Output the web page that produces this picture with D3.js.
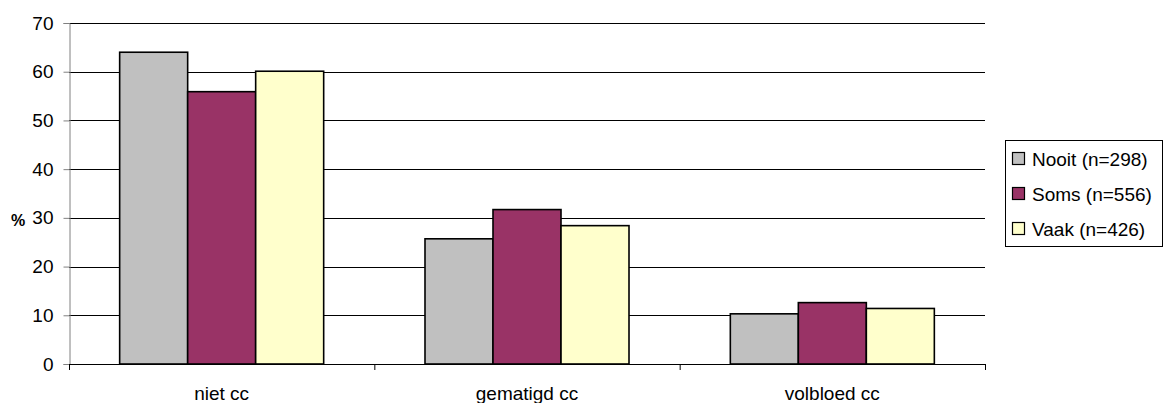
<!DOCTYPE html>
<html>
<head>
<meta charset="utf-8">
<script src="https://cdn.jsdelivr.net/npm/d3@7/dist/d3.min.js"></script>
<style>
  html, body { margin: 0; padding: 0; background: #fff; }
  svg { display: block; font-family: "Liberation Sans", Arial, sans-serif; }
</style>
</head>
<body>
<svg id="chart" width="1164" height="403"></svg>
<script>
// Categories on the x axis
const categories = ["niet cc", "gematigd cc", "volbloed cc"];
// Series (legend labels) and their fills
const seriesNames = ["Nooit (n=298)", "Soms (n=556)", "Vaak (n=426)"];
const seriesColors = ["#C0C0C0", "#993366", "#FFFFCC"];
// Percentages per series, one per category
const nooit = [64.0, 25.7, 10.3];
const soms  = [55.9, 31.7, 12.6];
const vaak  = [60.1, 28.4, 11.4];
const seriesValues = [nooit, soms, vaak];
// Y axis ticks
const yTicks = [0, 10, 20, 30, 40, 50, 60, 70];
const yLabel = "%";

const svg = d3.select("#chart");
const plot = { left: 69, right: 985, top: 23, bottom: 364 };
const fontSize = 19;

const x = d3.scaleBand().domain(categories).range([plot.left, plot.right]).padding(0);
const xs = d3.scaleBand().domain(d3.range(seriesNames.length))
  .range([0, x.bandwidth()]).paddingInner(0).paddingOuter(0.745);
const y = d3.scaleLinear().domain([0, 70]).range([plot.bottom, plot.top]);

// Horizontal gridlines
svg.append("g")
  .selectAll("line")
  .data(yTicks.filter(d => d > 0))
  .join("line")
  .attr("x1", plot.left).attr("x2", plot.right)
  .attr("y1", d => Math.round(y(d)) + 0.5).attr("y2", d => Math.round(y(d)) + 0.5)
  .attr("stroke", "#000").attr("stroke-width", 1);

// Y axis
const yAxis = svg.append("g")
  .attr("transform", `translate(${plot.left + 0.5},0)`)
  .call(d3.axisLeft(y).tickValues(yTicks).tickSize(6).tickPadding(10).tickFormat(d3.format("d")));
yAxis.select(".domain").attr("stroke", "#808080");
yAxis.selectAll(".tick line").attr("stroke", "#808080");
yAxis.selectAll(".tick text").attr("font-size", fontSize).attr("fill", "#000")
  .attr("font-family", "Liberation Sans, Arial, sans-serif");

// Y axis title
svg.append("text")
  .attr("x", 18).attr("y", 226)
  .attr("text-anchor", "middle")
  .attr("font-size", 16).attr("font-weight", "bold")
  .text(yLabel);

// Bars
const groups = svg.append("g").selectAll("g")
  .data(categories)
  .join("g")
  .attr("transform", d => `translate(${x(d)},0)`);

groups.selectAll("rect")
  .data((c, ci) => seriesValues.map((vals, si) => ({ si, v: vals[ci] })))
  .join("rect")
  .attr("x", d => xs(d.si))
  .attr("width", xs.bandwidth())
  .attr("y", d => y(d.v))
  .attr("height", d => y(0) - y(d.v))
  .attr("fill", d => seriesColors[d.si])
  .attr("stroke", "#000")
  .attr("stroke-width", 1.6);

// X axis
const xAxisLine = svg.append("g");
xAxisLine.append("line")
  .attr("x1", plot.left).attr("x2", plot.right)
  .attr("y1", plot.bottom + 0.5).attr("y2", plot.bottom + 0.5)
  .attr("stroke", "#000").attr("stroke-width", 1.2);
xAxisLine.selectAll("line.tk")
  .data(d3.range(categories.length + 1))
  .join("line")
  .attr("class", "tk")
  .attr("x1", i => plot.left + i * x.step() + 0.5)
  .attr("x2", i => plot.left + i * x.step() + 0.5)
  .attr("y1", plot.bottom).attr("y2", plot.bottom + 6)
  .attr("stroke", "#000");
xAxisLine.selectAll("text")
  .data(categories)
  .join("text")
  .attr("x", d => x(d) + x.bandwidth() / 2)
  .attr("y", 400)
  .attr("text-anchor", "middle")
  .attr("font-size", fontSize)
  .text(d => d);

// Legend
const legend = svg.append("g");
legend.append("rect")
  .attr("x", 1005.5).attr("y", 140.5)
  .attr("width", 157).attr("height", 106)
  .attr("fill", "#fff").attr("stroke", "#000").attr("stroke-width", 1);
const items = legend.selectAll("g.item")
  .data(seriesNames)
  .join("g")
  .attr("class", "item")
  .attr("transform", (d, i) => `translate(0,${159 + i * 35})`);
items.append("rect")
  .attr("x", 1012.5).attr("y", -6.5)
  .attr("width", 12).attr("height", 12)
  .attr("fill", (d, i) => seriesColors[i])
  .attr("stroke", "#000").attr("stroke-width", 1.2);
items.append("text")
  .attr("x", 1032).attr("y", 6.5)
  .attr("font-size", fontSize)
  .text(d => d);
</script>
</body>
</html>
